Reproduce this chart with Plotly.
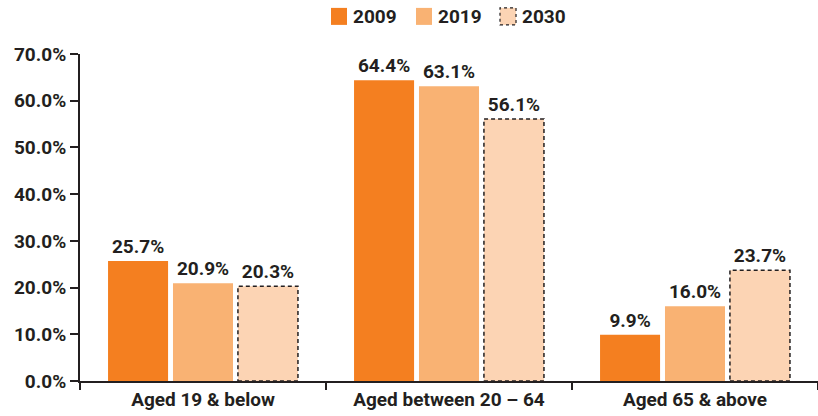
import plotly.graph_objects as go

categories = ["Aged 19 & below", "Aged between 20 \u2013 64", "Aged 65 & above"]
years = ["2009", "2019", "2030"]
v2009 = [25.7, 64.4, 9.9]
v2019 = [20.9, 63.1, 16.0]
v2030 = [20.3, 56.1, 23.7]
y_ticks = [0, 10, 20, 30, 40, 50, 60, 70]

series = [v2009, v2019, v2030]
colors = ["#F47F20", "#F9B273", "#FCD4B4"]
dark = "#231F20"
width = 0.244
offsets = [-0.386, -0.122, 0.142]
FS = 19

fig = go.Figure()
for name, vals, col, off in zip(years, series, colors, offsets):
    fig.add_trace(go.Bar(
        x=categories, y=vals, name=name,
        marker=dict(color=col, line=dict(width=0)),
        width=width, offset=off,
        text=[f"{v:.1f}%" for v in vals], textposition="outside",
        textfont=dict(family="Roboto", size=FS, color=dark, weight=700),
        cliponaxis=False, showlegend=False,
    ))

# dashed outline for projected 2030 bars
for i, v in enumerate(v2030):
    fig.add_shape(type="rect", xref="x", yref="y",
                  x0=i + offsets[2], x1=i + offsets[2] + width, y0=0, y1=v,
                  line=dict(color=dark, width=1.5, dash="4px,3px"),
                  fillcolor="rgba(0,0,0,0)", layer="above")

# manual legend
leg_x = [0.3401, 0.4553, 0.5691]
for k, (name, col) in enumerate(zip(years, colors)):
    x0 = leg_x[k]
    fig.add_shape(type="rect", xref="paper", yref="paper",
                  x0=x0, x1=x0 + 0.0217, y0=1.089, y1=1.141,
                  fillcolor=col,
                  line=dict(color=dark if k == 2 else col, width=1.2 if k == 2 else 0,
                            dash="dot" if k == 2 else "solid"))
    fig.add_annotation(xref="paper", yref="paper", x=x0 + 0.0275, y=1.115,
                       text=name, showarrow=False, xanchor="left", yanchor="middle",
                       font=dict(family="Roboto", size=FS, color=dark, weight=700))

fig.update_layout(
    width=818, height=416,
    margin=dict(l=80, r=0, t=54, b=35),
    plot_bgcolor="white", paper_bgcolor="white",
    font=dict(family="Roboto", size=FS, color=dark, weight=700),
    barmode="overlay",
    xaxis=dict(showline=True, linecolor=dark, linewidth=2,
               ticks="outside", tickson="boundaries", ticklen=7, tickwidth=2,
               tickcolor=dark, showgrid=False, automargin=False,
               tickfont=dict(family="Roboto", size=FS, color=dark, weight=700)),
    yaxis=dict(range=[0, 70], tickvals=y_ticks,
               ticktext=[f"{t:.1f}%" for t in y_ticks],
               showline=True, linecolor=dark, linewidth=2,
               ticks="outside", ticklen=8, tickwidth=2, tickcolor=dark,
               showgrid=False, zeroline=False, automargin=False,
               tickfont=dict(family="Roboto", size=FS, color=dark, weight=700)),
)

fig.write_html("out.html", config={"displayModeBar": False},
               post_script="document.body.style.margin='0';")
